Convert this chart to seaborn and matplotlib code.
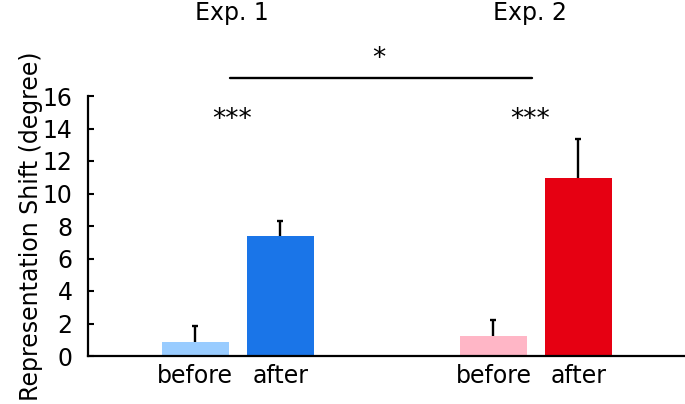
import matplotlib
matplotlib.use("Agg")
import matplotlib.pyplot as plt
import seaborn as sns
import pandas as pd
import numpy as np

groups = ["Exp. 1", "Exp. 1", "Exp. 2", "Exp. 2"]
conditions = ["before", "after", "before", "after"]
means = [0.86, 7.38, 1.23, 10.95]
errors = [0.99, 0.95, 0.97, 2.42]
bar_colors = ["#99CCFF", "#1A75E8", "#FFB6C6", "#E60012"]
group_labels = ["Exp. 1", "Exp. 2"]
yticks = [0, 2, 4, 6, 8, 10, 12, 14, 16]
ylabel = "Representation Shift (degree)"

sns.set_style("white")
plt.rcParams["font.family"] = ["DejaVu Sans"]
plt.rcParams["text.color"] = "black"
plt.rcParams["axes.labelcolor"] = "black"
plt.rcParams["xtick.color"] = "black"
plt.rcParams["ytick.color"] = "black"

df = pd.DataFrame({"group": groups, "condition": conditions, "value": means})

fig = plt.figure(figsize=(6.85, 4.04), dpi=100)
ax = fig.add_axes([88 / 685, 48 / 404, 597 / 685, 260 / 404])

sns.barplot(data=df, x="group", y="value", hue="condition",
            order=group_labels, hue_order=["before", "after"],
            width=0.57, gap=0.21, dodge=True, errorbar=None,
            legend=False, linewidth=0, ax=ax, zorder=3)

patches = sorted(ax.patches, key=lambda p: p.get_x())
centers = []
for p, c in zip(patches, bar_colors):
    p.set_facecolor(c)
    p.set_edgecolor("none")
    p.set_zorder(3)
    centers.append(p.get_x() + p.get_width() / 2)

# symmetric bars drawn beneath the bars: only the upper half shows
ax.errorbar(centers, means, yerr=errors, fmt="none",
            ecolor="black", elinewidth=1.7, capsize=2.4, capthick=1.7, zorder=2)

ax.set_xlim(-0.502, 1.5)
ax.set_ylim(0, 16)
ax.set_yticks(yticks)
ax.set_yticklabels([str(t) for t in yticks], fontsize=17)
ax.set_xticks(centers)
ax.set_xticklabels(conditions, fontsize=17)
ax.set_xlabel("")
ax.set_ylabel(ylabel, fontsize=17, labelpad=0)
ax.tick_params(axis="y", direction="in", length=4, width=1.5, pad=11, left=True)
ax.tick_params(axis="x", length=0, pad=6)

for s in ["top", "right"]:
    ax.spines[s].set_visible(False)
for s in ["left", "bottom"]:
    ax.spines[s].set_color("black")
    ax.spines[s].set_linewidth(1.6)
    ax.spines[s].set_zorder(4)

# group titles and significance marks
for gi, g in enumerate(group_labels):
    gx = gi - 0.02
    ax.text(gx, 21.1, g, ha="center", va="center", fontsize=17, clip_on=False)
    ax.text(gx, 14.5, "***", ha="center", va="center", fontsize=19, clip_on=False)

ax.plot([-0.026, 0.987], [17.1, 17.1], color="black", lw=1.7, clip_on=False)
ax.text(0.474, 18.3, "*", ha="center", va="center", fontsize=19, clip_on=False)

fig.savefig("out.png", dpi=100)
